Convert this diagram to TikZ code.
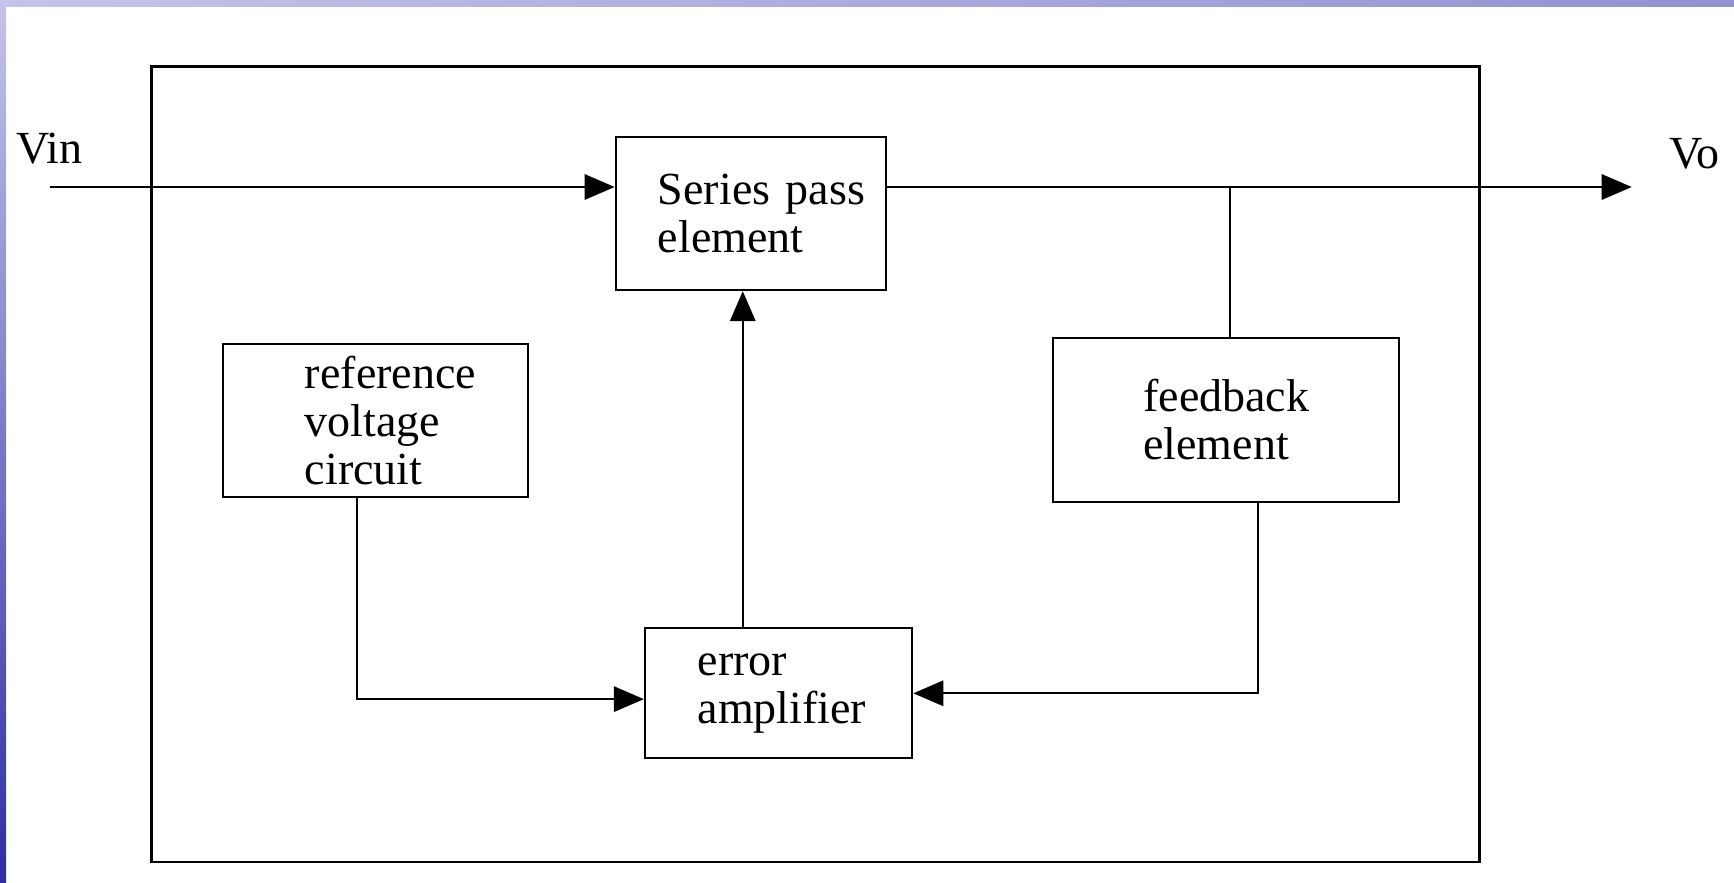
\documentclass[tikz,border=0pt]{standalone}
\usepackage{fontspec}
\setmainfont{Liberation Serif}
\usetikzlibrary{arrows.meta,calc}

\tikzset{every picture/.style={line width=1.6pt}}
\tikzset{blk/.style n args={3}{draw, rectangle, inner sep=0pt, text width=#1, minimum height=#2,
           font=\fontsize{34.5}{36}\selectfont, execute at begin node={\leftskip=#3\parindent=0pt}},
         lbl/.style={inner sep=0pt, font=\fontsize{34.5}{36}\selectfont}}

\begin{document}
\begin{tikzpicture}[x=0.75pt,y=0.75pt,yscale=-1,xscale=1,>={Triangle[length=22.5pt,width=19pt]}]
\useasboundingbox (0,0) rectangle (1734,882);
%Background
\fill [white] (0,0) rectangle (1734,882);
\shade [left color={rgb,255:red,196;green,196;blue,234}, right color={rgb,255:red,146;green,146;blue,212}] (0,0) rectangle (1734,6);
\shade [top color={rgb,255:red,196;green,196;blue,234}, bottom color={rgb,255:red,46;green,46;blue,166}] (0,0) rectangle (6,882);

%Shape: Rectangle [outer frame]
\draw (151.5,66.5) rectangle (1479.5,862);

%Shape: Rectangle [blocks]
\node [blk={202.5pt}{115pt}{31.7pt}] (pass) at (750.7,213.4) {Series pass\\element};
\node [blk={229.2pt}{114.3pt}{61.7pt}] (ref) at (375.5,420.5) {reference\\voltage\\circuit};
\node [blk={259.5pt}{122.5pt}{67.5pt}] (fb) at (1226.3,420) {feedback\\element};
\node [blk={200.5pt}{97.5pt}{39.5pt}] (err) at (778.6,693.3) {error\\amplifier};

% Text Node
\node [lbl, anchor=base west] (vin) at (15,163) {Vin};
% Text Node
\node [lbl, anchor=base west] (vo) at (1668,168) {Vo};

\coordinate (vinstart) at (50,187);
\coordinate (voend) at (1631.7,187);
\coordinate (fbtop) at ($(fb.north west)!0.51!(fb.north east)$);
\coordinate (fbbot) at ($(fb.south west)!0.59!(fb.south east)$);
\coordinate (reftap) at ($(ref.south west)!0.44!(ref.south east)$);
\coordinate (errtap) at ($(err.north west)!0.367!(err.north east)$);
\coordinate (errin) at ($(err.north west)!0.544!(err.south west)$);

%Straight Lines
\draw [->] (vinstart) -- (vinstart -| pass.west);
\draw [->] (vinstart -| pass.east) -- (voend);
\draw (fbtop) -- (fbtop |- voend);
\draw [->] (errtap) -- (errtap |- pass.south);
\draw [->] (reftap) |- (errin);
\draw [->] (fbbot) |- (err.east);

\end{tikzpicture}
\end{document}
